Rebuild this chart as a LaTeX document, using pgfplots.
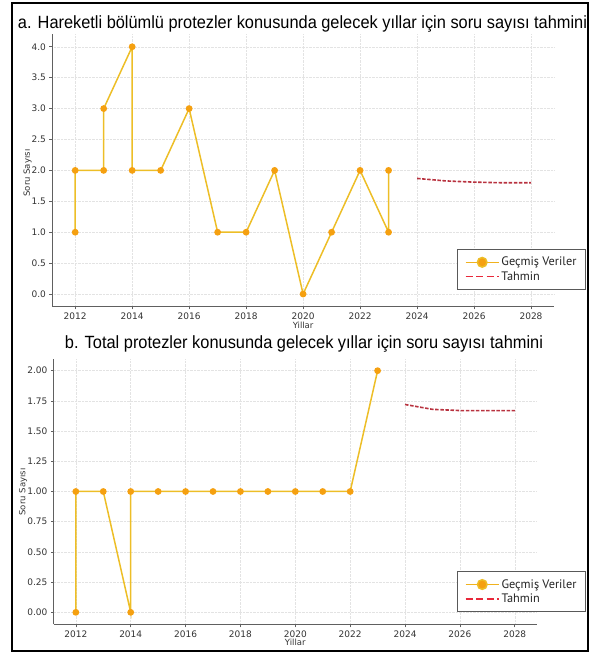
\documentclass[border=0pt]{standalone}
\usepackage{pgfplots}
\pgfplotsset{compat=1.18}
\usepackage{graphicx}
\usepackage{fontspec}
\setmainfont{DejaVu Sans}
\newfontfamily\titlefont{Liberation Sans}
\newfontfamily\legfont{PT Sans}
\definecolor{linecol}{HTML}{EDBE27}
\definecolor{markcol}{HTML}{F5A010}
\definecolor{fcol}{HTML}{B8323F}
\definecolor{fleg}{HTML}{E8283A}
\definecolor{tickcol}{HTML}{333333}
\pgfplotsset{
  mystyle/.style={
    scale only axis,
    axis lines=left,
    axis line style={-, draw=gray!75!black, line width=0.9pt},
    tick align=outside,
    major tick length=3pt,
    tick style={draw=gray!75!black, line width=0.6pt},
    grid=major,
    grid style={densely dotted, gray!22, line width=0.5pt},
    xmin=2011.2, xmax=2028.8,
    xtick={2012,2014,...,2028},
    /pgf/number format/assume math mode=true,
    xticklabel style={/pgf/number format/1000 sep={}, font=\fontsize{9}{10}\selectfont, text=tickcol},
    yticklabel style={font=\fontsize{9}{10}\selectfont, text=tickcol},
    label style={font=\fontsize{8.5}{10}\selectfont, text=tickcol},
    legend style={draw=gray!70!black, line width=0.9pt, font=\legfont\fontsize{12.3}{14}\selectfont,
      cells={anchor=west}, inner xsep=7pt, inner ysep=6pt, row sep=0pt, text=black!85},
    legend cell align=left,
  },
}
\begin{document}
\begin{tikzpicture}[x=1pt,y=1pt]
\useasboundingbox (0,0) rectangle (599,654);
\draw[line width=1.4pt] (12,3) rectangle (588,651);
\node[anchor=base] at (302.5,625.7) {\resizebox{569pt}{\height}{\fontsize{17.7}{20}\titlefont a. Hareketli bölümlü protezler konusunda gelecek yıllar için soru sayısı tahmini}};
\node[anchor=base] at (304,305.7) {\resizebox{478pt}{\height}{\fontsize{17.7}{20}\titlefont b. Total protezler konusunda gelecek yıllar için soru sayısı tahmini}};

\begin{axis}[mystyle,
  at={(52.4pt,347.6pt)}, anchor=south west,
  width=501.4pt, height=272pt,
  ymin=-0.2, ymax=4.2,
  ytick={0,0.5,...,4},
  yticklabel style={/pgf/number format/.cd, fixed, fixed zerofill, precision=1},
  xlabel={Yillar}, ylabel={Soru Sayısı},
  xlabel style={at={(axis description cs:0.5,-0.068)}, anchor=center},
  ylabel style={at={(axis description cs:-0.0497,0.49)}, anchor=center},
  legend style={at={(axis description cs:1.064,0.06)}, anchor=south east},
]
\addplot[color=linecol, line width=1.5pt, mark=*, mark size=2.6pt,
    mark options={fill=markcol, draw=markcol},
    legend image code/.code={
      \draw[draw=linecol!60!markcol, line width=1.3pt, solid] (0pt,0pt) -- (33pt,0pt);
      \fill[fill=markcol] (16.5pt,0pt) circle (4.8pt);}] coordinates {
(2012,1) (2012,2) (2013,2) (2013,3) (2014,4) (2014,2) (2015,2) (2016,3)
(2017,1) (2018,1) (2019,2) (2020,0) (2021,1) (2022,2) (2023,1) (2023,2)};
\addlegendentry{Geçmiş Veriler}
\addplot[color=fcol, line width=1.6pt, dash pattern=on 3.5pt off 1.6pt, no marks,
    legend image code/.code={
      \draw[draw=fleg, line width=1.6pt, dash pattern=on 7pt off 3.5pt] (0pt,0pt) -- (33pt,0pt);}] coordinates {
(2024,1.87) (2025,1.83) (2026,1.81) (2027,1.80) (2028,1.80)};
\addlegendentry{Tahmin}
\end{axis}

\begin{axis}[mystyle,
  at={(53.9pt,29.6pt)}, anchor=south west,
  width=482.8pt, height=265.8pt,
  ymin=-0.1, ymax=2.1,
  ytick={0,0.25,...,2},
  yticklabel style={/pgf/number format/.cd, fixed, fixed zerofill, precision=2},
  xlabel={Yillar}, ylabel={Soru Sayısı},
  xlabel style={at={(axis description cs:0.5,-0.068)}, anchor=center},
  ylabel style={at={(axis description cs:-0.064,0.498)}, anchor=center},
  legend style={at={(axis description cs:1.102,0.0455)}, anchor=south east},
]
\addplot[color=linecol, line width=1.5pt, mark=*, mark size=2.6pt,
    mark options={fill=markcol, draw=markcol},
    legend image code/.code={
      \draw[draw=linecol!60!markcol, line width=1.3pt, solid] (0pt,0pt) -- (33pt,0pt);
      \fill[fill=markcol] (16.5pt,0pt) circle (4.8pt);}] coordinates {
(2012,0) (2012,1) (2013,1) (2014,0) (2014,1) (2015,1) (2016,1) (2017,1)
(2018,1) (2019,1) (2020,1) (2021,1) (2022,1) (2023,2)};
\addlegendentry{Geçmiş Veriler}
\addplot[color=fcol, line width=1.6pt, dash pattern=on 3.5pt off 1.6pt, no marks,
    legend image code/.code={
      \draw[draw=fleg, line width=1.6pt, dash pattern=on 7pt off 3.5pt] (0pt,0pt) -- (33pt,0pt);}] coordinates {
(2024,1.72) (2025,1.68) (2026,1.67) (2027,1.67) (2028,1.67)};
\addlegendentry{Tahmin}
\end{axis}
\end{tikzpicture}
\end{document}
